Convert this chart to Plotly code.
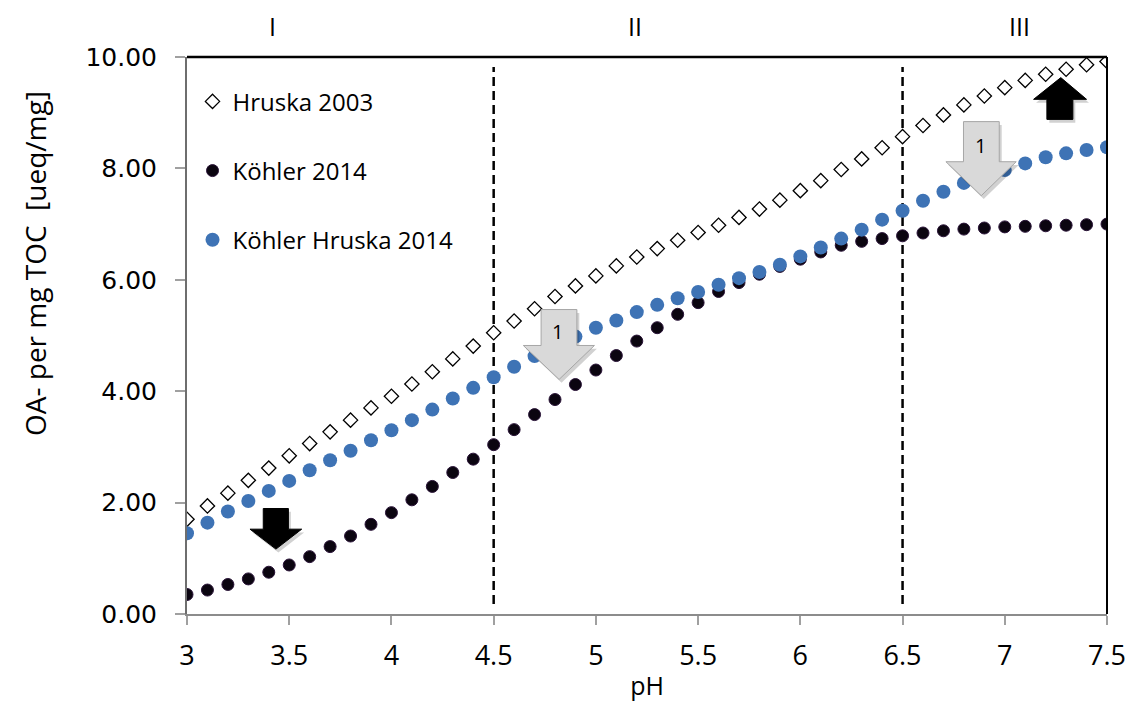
import plotly.graph_objects as go

# ---------------- data ----------------
ph = [3.0, 3.1, 3.2, 3.3, 3.4, 3.5, 3.6, 3.7, 3.8, 3.9,
      4.0, 4.1, 4.2, 4.3, 4.4, 4.5, 4.6, 4.7, 4.8, 4.9,
      5.0, 5.1, 5.2, 5.3, 5.4, 5.5, 5.6, 5.7, 5.8, 5.9,
      6.0, 6.1, 6.2, 6.3, 6.4, 6.5, 6.6, 6.7, 6.8, 6.9,
      7.0, 7.1, 7.2, 7.3, 7.4, 7.5]

hruska_2003 = [1.70, 1.94, 2.17, 2.40, 2.62, 2.84, 3.06, 3.27, 3.48, 3.70,
               3.91, 4.13, 4.35, 4.58, 4.81, 5.05, 5.26, 5.48, 5.70, 5.89,
               6.07, 6.25, 6.41, 6.56, 6.71, 6.85, 6.98, 7.12, 7.27, 7.43,
               7.60, 7.78, 7.98, 8.17, 8.37, 8.57, 8.77, 8.96, 9.14, 9.30,
               9.45, 9.58, 9.69, 9.78, 9.86, 9.92]

koehler_2014 = [0.35, 0.43, 0.53, 0.63, 0.75, 0.88, 1.03, 1.21, 1.40, 1.61,
                1.82, 2.05, 2.29, 2.54, 2.78, 3.04, 3.31, 3.58, 3.85, 4.12,
                4.38, 4.64, 4.90, 5.14, 5.38, 5.59, 5.79, 5.95, 6.10, 6.24,
                6.37, 6.50, 6.62, 6.69, 6.74, 6.79, 6.84, 6.88, 6.91, 6.93,
                6.95, 6.96, 6.97, 6.98, 6.99, 7.00]

koehler_hruska_2014 = [1.45, 1.64, 1.84, 2.03, 2.21, 2.39, 2.58, 2.76, 2.93, 3.12,
                       3.30, 3.48, 3.67, 3.87, 4.06, 4.25, 4.44, 4.63, 4.81, 4.98,
                       5.14, 5.27, 5.42, 5.55, 5.67, 5.78, 5.91, 6.03, 6.14, 6.27,
                       6.42, 6.58, 6.74, 6.90, 7.08, 7.24, 7.42, 7.58, 7.74, 7.86,
                       7.97, 8.09, 8.20, 8.27, 8.33, 8.38]

x_ticks = [3, 3.5, 4, 4.5, 5, 5.5, 6, 6.5, 7, 7.5]
x_tick_labels = ["3", "3.5", "4", "4.5", "5", "5.5", "6", "6.5", "7", "7.5"]
y_ticks = [0, 2, 4, 6, 8, 10]
y_tick_labels = ["0.00", "2.00", "4.00", "6.00", "8.00", "10.00"]

region_boundaries = [4.5, 6.5]
region_names = ["I", "II", "III"]
region_label_x = [3.42, 5.19, 7.07]

# ---------------- figure ----------------
LABEL_FONT = "Open Sans"
TICK_FONT = "DejaVu Sans"

fig = go.Figure()

fig.add_trace(go.Scatter(
    x=ph, y=hruska_2003, mode="markers", name="Hruska 2003", legendgroup="a",
    marker=dict(symbol="diamond", size=11, color="white",
                line=dict(color="black", width=1.3)),
))
fig.add_trace(go.Scatter(
    x=ph, y=koehler_2014, mode="markers", name="Köhler 2014", legendgroup="b",
    marker=dict(symbol="circle", size=12, color="#0b0510",
                line=dict(color="#2a1438", width=1)),
))
fig.add_trace(go.Scatter(
    x=ph, y=koehler_hruska_2014, mode="markers", name="Köhler Hruska 2014", legendgroup="c",
    marker=dict(symbol="circle", size=14, color="#3e73b5",
                line=dict(color="#3e73b5", width=0)),
))

shapes = []
# dashed region boundaries
for xb in region_boundaries:
    shapes.append(dict(type="line", xref="x", yref="y", x0=xb, x1=xb, y0=0.18, y1=9.82,
                       line=dict(color="black", width=2.5, dash="9px,5px"), layer="below"))

# top and right border (black)
shapes.append(dict(type="line", xref="paper", yref="paper", x0=0, x1=1, y0=1, y1=1,
                   line=dict(color="black", width=2.5)))
shapes.append(dict(type="line", xref="paper", yref="paper", x0=1, x1=1, y0=0, y1=1,
                   line=dict(color="black", width=2)))


def arrow_path(pts):
    return "M " + " L ".join(f"{px},{py}" for px, py in pts) + " Z"


# black down arrow (region I)
black_down = [(3.373, 1.894), (3.496, 1.894), (3.496, 1.523), (3.561, 1.523),
              (3.435, 1.165), (3.308, 1.523), (3.373, 1.523)]
# grey down arrow (region II)
grey_down_1 = [(4.732, 5.466), (4.907, 5.466), (4.907, 4.821), (4.993, 4.821),
               (4.820, 4.211), (4.645, 4.821), (4.732, 4.821)]
# grey down arrow (region III)
grey_down_2 = [(6.798, 8.84), (6.973, 8.84), (6.973, 8.12), (7.056, 8.12),
               (6.885, 7.51), (6.712, 8.12), (6.798, 8.12)]
# black up arrow (region III)
black_up = [(7.206, 8.88), (7.333, 8.88), (7.333, 9.24), (7.400, 9.24),
            (7.274, 9.63), (7.141, 9.24), (7.206, 9.24)]

for pts, fill, edge in [(black_down, "black", "black"),
                        (grey_down_1, "#d9d9d9", "#a6a6a6"),
                        (grey_down_2, "#d9d9d9", "#a6a6a6"),
                        (black_up, "black", "black")]:
    shadow = [(px + 0.012, py - 0.06) for px, py in pts]
    shapes.append(dict(type="path", xref="x", yref="y", path=arrow_path(shadow),
                       fillcolor="rgba(0,0,0,0.18)", line=dict(width=0)))
    shapes.append(dict(type="path", xref="x", yref="y", path=arrow_path(pts),
                       fillcolor=fill, line=dict(color=edge, width=1)))

annotations = []
for nm, lx in zip(region_names, region_label_x):
    annotations.append(dict(x=lx, y=1.055, xref="x", yref="paper", text=nm,
                            showarrow=False, font=dict(family=LABEL_FONT, size=25, color="black"),
                            xanchor="center", yanchor="middle"))
annotations.append(dict(x=4.81, y=5.08, xref="x", yref="y", text="1", showarrow=False,
                        font=dict(family=LABEL_FONT, size=20, color="black")))
annotations.append(dict(x=6.88, y=8.42, xref="x", yref="y", text="1", showarrow=False,
                        font=dict(family=LABEL_FONT, size=20, color="black")))
# y-axis title (placed like the original, slightly above centre)
annotations.append(dict(x=35, y=264, xref="paper", yref="paper", text="OA- per mg TOC  [ueq/mg]",
                        showarrow=False, textangle=-90,
                        font=dict(family=LABEL_FONT, size=28, color="black"),
                        xanchor="center", yanchor="middle"))

# convert pixel placement of y title to paper coords
PLOT_L, PLOT_R, PLOT_T, PLOT_B = 187, 1107, 57, 614
ann = annotations[-1]
ann["x"] = (ann["x"] - PLOT_L) / (PLOT_R - PLOT_L)
ann["y"] = (PLOT_B - ann["y"]) / (PLOT_B - PLOT_T)

fig.update_layout(
    width=1128, height=702,
    margin=dict(l=187, r=21, t=57, b=88),
    paper_bgcolor="white", plot_bgcolor="white",
    showlegend=True,
    legend=dict(x=0.006, y=0.96, xanchor="left", yanchor="top",
                bgcolor="rgba(0,0,0,0)", font=dict(family=LABEL_FONT, size=24, color="black"),
                tracegroupgap=35, itemsizing="trace"),
    shapes=shapes,
    annotations=annotations,
    xaxis=dict(range=[3, 7.5], tickmode="array", tickvals=x_ticks, ticktext=x_tick_labels,
               automargin=False,
               showgrid=False, zeroline=False, showline=True, linecolor="#8c8c8c", linewidth=2,
               ticks="outside", ticklen=9, tickcolor="#a0a0a0", tickwidth=1.5,
               tickfont=dict(family=LABEL_FONT, size=27, color="black"),
               ticklabelstandoff=8,
               title=dict(text="pH", font=dict(family=LABEL_FONT, size=25, color="black"),
                          standoff=8)),
    yaxis=dict(range=[0, 10], tickmode="array", tickvals=y_ticks, ticktext=y_tick_labels,
               automargin=False,
               showgrid=False, zeroline=False, showline=True, linecolor="#6e6e6e", linewidth=2,
               ticks="outside", ticklen=10, tickcolor="#a0a0a0", tickwidth=1.5,
               tickfont=dict(family=TICK_FONT, size=25, color="black"),
               ticklabelstandoff=13),
)

fig.write_html("out.html")
